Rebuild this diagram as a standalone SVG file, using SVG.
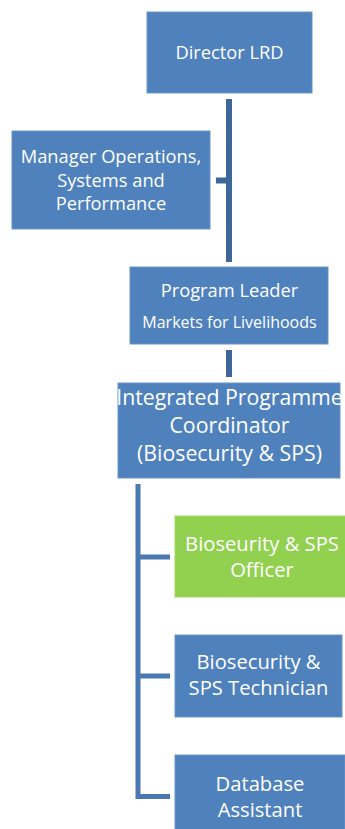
<svg xmlns="http://www.w3.org/2000/svg" width="345" height="829" viewBox="0 0 345 829">
<style>
.box{fill:#4f81bd;stroke:#6a95c8;stroke-width:1}
.green{fill:#92d050;stroke:#a3d96a;stroke-width:1}
text{font-family:"Open Sans","Noto Sans",sans-serif;fill:#fff;text-anchor:middle;font-size:18.3px}
.sm{font-size:16px}
.lg{font-size:21.3px}
.md{font-size:20.2px}
.c1{fill:none;stroke:#3d6799;stroke-width:6}
.c2{fill:none;stroke:#4a78b0;stroke-width:5}
</style>
<rect width="345" height="829" fill="#fff"/>
<g id="connectors">
<path class="c1" d="M229 99V262M216 180.5H229"/>
<path class="c1" d="M229 350V377"/>
<path class="c2" d="M138 484V796.5H170M138 557H170M138 676H170"/>
</g>
<g id="director">
<rect class="box" x="147" y="12" width="165" height="81"/>
<text x="229.5" y="59">Director LRD</text>
</g>
<g id="manager">
<rect class="box" x="12" y="131" width="198" height="98"/>
<text x="111" y="163">Manager Operations,</text>
<text x="111" y="187">Systems and</text>
<text x="111" y="210">Performance</text>
</g>
<g id="program-leader">
<rect class="box" x="130" y="267" width="198" height="77"/>
<text x="229.5" y="297">Program Leader</text>
<text class="sm" x="229.5" y="328">Markets for Livelihoods</text>
</g>
<g id="coordinator">
<rect class="box" x="118" y="383" width="222" height="95"/>
<text class="lg" x="229.5" y="405">Integrated Programme</text>
<text class="lg" x="229.5" y="433">Coordinator</text>
<text class="lg" x="229.5" y="461">(Biosecurity &amp; SPS)</text>
</g>
<g id="officer">
<rect class="green" x="175" y="516" width="171" height="81"/>
<text class="md" x="262" y="551">Bioseurity &amp; SPS</text>
<text class="md" x="262" y="577">Officer</text>
</g>
<g id="technician">
<rect class="box" x="175" y="635" width="167" height="82"/>
<text class="md" x="258.5" y="669">Biosecurity &amp;</text>
<text class="md" x="258.5" y="695">SPS Technician</text>
</g>
<g id="database">
<rect class="box" x="175" y="755" width="170" height="75"/>
<text class="md" x="260" y="791">Database</text>
<text class="md" x="260" y="817">Assistant</text>
</g>
</svg>
